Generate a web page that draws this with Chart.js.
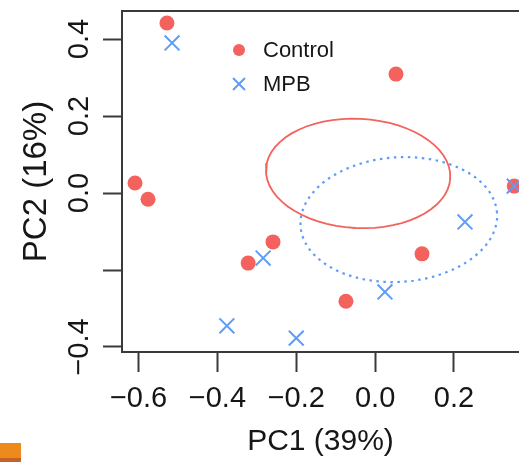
<!DOCTYPE html>
<html>
<head>
<meta charset="utf-8">
<title>PCA</title>
<script src="https://cdn.jsdelivr.net/npm/chart.js@4.4.1/dist/chart.umd.min.js"></script>
<style>
    html, body { margin: 0; padding: 0; background: #fff; }
    #wrap { position: relative; width: 519px; height: 462px; overflow: hidden; }
    #tab {
        position: absolute; left: 0; top: 443px; width: 21px; height: 19px;
        background: linear-gradient(#ec8a1c 0 15px, #c4622c 15px);
    }
</style>
</head>
<body>
<div id="wrap">
    <canvas id="pcaChart" width="519" height="462"></canvas>
    <div id="tab"></div>
</div>
<script>
// sample scores on the first two components
const controlPC1 = [-0.528, 0.053, -0.609, -0.576, -0.259, -0.322, 0.119, -0.074, 0.353];
const controlPC2 = [0.442, 0.309, 0.026, -0.016, -0.127, -0.182, -0.158, -0.281, 0.018];
const mpbPC1 = [-0.515, 0.353, 0.228, -0.284, 0.025, -0.376, -0.200];
const mpbPC2 = [0.390, 0.018, -0.075, -0.169, -0.257, -0.345, -0.377];

// group ellipses: centre x, centre y, half width, half height, tilt in degrees
const controlEllipse = [-0.043, 0.051, 0.234, 0.142, -3];
const mpbEllipse = [0.060, -0.069, 0.250, 0.162, 4];

const groupNames = ['Control', 'MPB'];
const xTicks = [-0.6, -0.4, -0.2, 0.0, 0.2];
const xTickLabels = ['\u22120.6', '\u22120.4', '\u22120.2', '0.0', '0.2'];
const yTicks = [-0.4, -0.2, 0.0, 0.2, 0.4];
const yTickLabels = ['\u22120.4', '', '0.0', '0.2', '0.4'];

const RED = '#f3625d';
const BLUE = '#5f9cf8';
const INK = '#161616';
const AXIS = '#3a3a3a';

function toPoints(xs, ys) {
    return xs.map((x, i) => ({ x: x, y: ys[i] }));
}

function ellipseOutline(params) {
    const [cx, cy, rx, ry, tilt] = params;
    const a = tilt * Math.PI / 180;
    const pts = [];
    for (let k = 0; k <= 60; k++) {
        const t = 2 * Math.PI * k / 60;
        const ex = rx * Math.cos(t);
        const ey = ry * Math.sin(t);
        pts.push({
            x: cx + ex * Math.cos(a) - ey * Math.sin(a),
            y: cy + ex * Math.sin(a) + ey * Math.cos(a)
        });
    }
    return pts;
}

// fixed axis boxes so the plot frame stays put
function fixBox(size, key) {
    return s => {
        s[key] = size;
        s.paddingLeft = 0;
        s.paddingRight = 0;
        s.paddingTop = 0;
        s.paddingBottom = 0;
    };
}

// small legend sitting inside the plot box
const groupLegend = {
    id: 'groupLegend',
    afterDatasetsDraw(chart, args, opts) {
        const ctx = chart.ctx;
        const area = chart.chartArea;
        const x0 = area.left + opts.left;
        ctx.save();
        ctx.font = opts.font;
        ctx.textBaseline = 'middle';
        ctx.textAlign = 'left';
        groupNames.forEach((name, i) => {
            const ds = chart.data.datasets[i];
            const y0 = area.top + opts.top + i * opts.rowGap;
            const r = opts.symbolSize[i];
            if (ds.pointStyle === 'circle') {
                ctx.fillStyle = ds.backgroundColor;
                ctx.beginPath();
                ctx.arc(x0, y0, r, 0, 2 * Math.PI);
                ctx.fill();
            } else {
                ctx.strokeStyle = ds.borderColor;
                ctx.lineWidth = ds.borderWidth;
                ctx.beginPath();
                ctx.moveTo(x0 - r, y0 - r); ctx.lineTo(x0 + r, y0 + r);
                ctx.moveTo(x0 - r, y0 + r); ctx.lineTo(x0 + r, y0 - r);
                ctx.stroke();
            }
            ctx.fillStyle = INK;
            ctx.fillText(name, x0 + opts.textGap, y0 + 1);
        });
        ctx.restore();
    }
};

Chart.defaults.font.family = '"Liberation Sans", Arial, sans-serif';
Chart.defaults.color = INK;

const ctx = document.getElementById('pcaChart').getContext('2d');
const pcaChart = new Chart(ctx, {
    type: 'scatter',
    data: {
        datasets: [
            {
                label: groupNames[0],
                data: toPoints(controlPC1, controlPC2),
                pointStyle: 'circle',
                pointRadius: 7.5,
                backgroundColor: RED,
                borderColor: RED,
                borderWidth: 0,
                order: 2
            },
            {
                label: groupNames[1],
                data: toPoints(mpbPC1, mpbPC2),
                pointStyle: 'crossRot',
                pointRadius: 10.5,
                backgroundColor: BLUE,
                borderColor: BLUE,
                borderWidth: 2,
                order: 1
            },
            {
                label: 'Control ellipse',
                data: ellipseOutline(controlEllipse),
                showLine: true,
                pointRadius: 0,
                borderColor: RED,
                borderWidth: 1.8,
                fill: false,
                tension: 0,
                order: 3
            },
            {
                label: 'MPB ellipse',
                data: ellipseOutline(mpbEllipse),
                showLine: true,
                pointRadius: 0,
                borderColor: BLUE,
                borderWidth: 2.2,
                borderDash: [2.5, 4.5],
                fill: false,
                tension: 0,
                order: 3
            }
        ]
    },
    options: {
        responsive: false,
        animation: false,
        layout: { padding: 0, autoPadding: false },
        plugins: {
            legend: { display: false },
            tooltip: { enabled: false },
            groupLegend: {
                left: 117,
                top: 39,
                rowGap: 34,
                textGap: 24,
                symbolSize: [6, 6],
                font: '22px "Liberation Sans", Arial, sans-serif'
            }
        },
        scales: {
            x: {
                type: 'linear',
                position: 'bottom',
                min: -0.642,
                max: 0.365,
                bounds: 'data',
                afterBuildTicks: s => { s.ticks = xTicks.map(v => ({ value: v })); },
                afterFit: fixBox(110, 'height'),
                ticks: {
                    padding: 10,
                    maxRotation: 0,
                    autoSkip: false,
                    font: { size: 29 },
                    color: INK,
                    callback: (v, i) => xTickLabels[i]
                },
                grid: { drawOnChartArea: false, tickLength: 20, tickWidth: 2, tickColor: AXIS },
                border: { display: true, color: AXIS, width: 2 },
                title: { display: true, text: 'PC1 (39%)', font: { size: 30 }, color: INK, padding: { top: 0, bottom: 2 } }
            },
            xTop: {
                type: 'linear',
                position: 'top',
                min: -0.642,
                max: 0.365,
                bounds: 'data',
                afterFit: fixBox(11, 'height'),
                ticks: { display: false },
                grid: { drawOnChartArea: false, drawTicks: false },
                border: { display: true, color: AXIS, width: 2 }
            },
            y: {
                type: 'linear',
                position: 'left',
                min: -0.413,
                max: 0.473,
                bounds: 'data',
                afterBuildTicks: s => { s.ticks = yTicks.map(v => ({ value: v })); },
                afterFit: fixBox(122, 'width'),
                ticks: {
                    padding: -6,
                    minRotation: 90,
                    maxRotation: 90,
                    crossAlign: 'center',
                    autoSkip: false,
                    font: { size: 29 },
                    color: INK,
                    callback: (v, i) => yTickLabels[i]
                },
                grid: { drawOnChartArea: false, tickLength: 19, tickWidth: 2, tickColor: AXIS },
                border: { display: true, color: AXIS, width: 2 },
                title: { display: true, text: 'PC2 (16%)', font: { size: 33 }, color: INK, padding: { top: 17, bottom: 0 } }
            }
        }
    },
    plugins: [groupLegend]
});
</script>
</body>
</html>
